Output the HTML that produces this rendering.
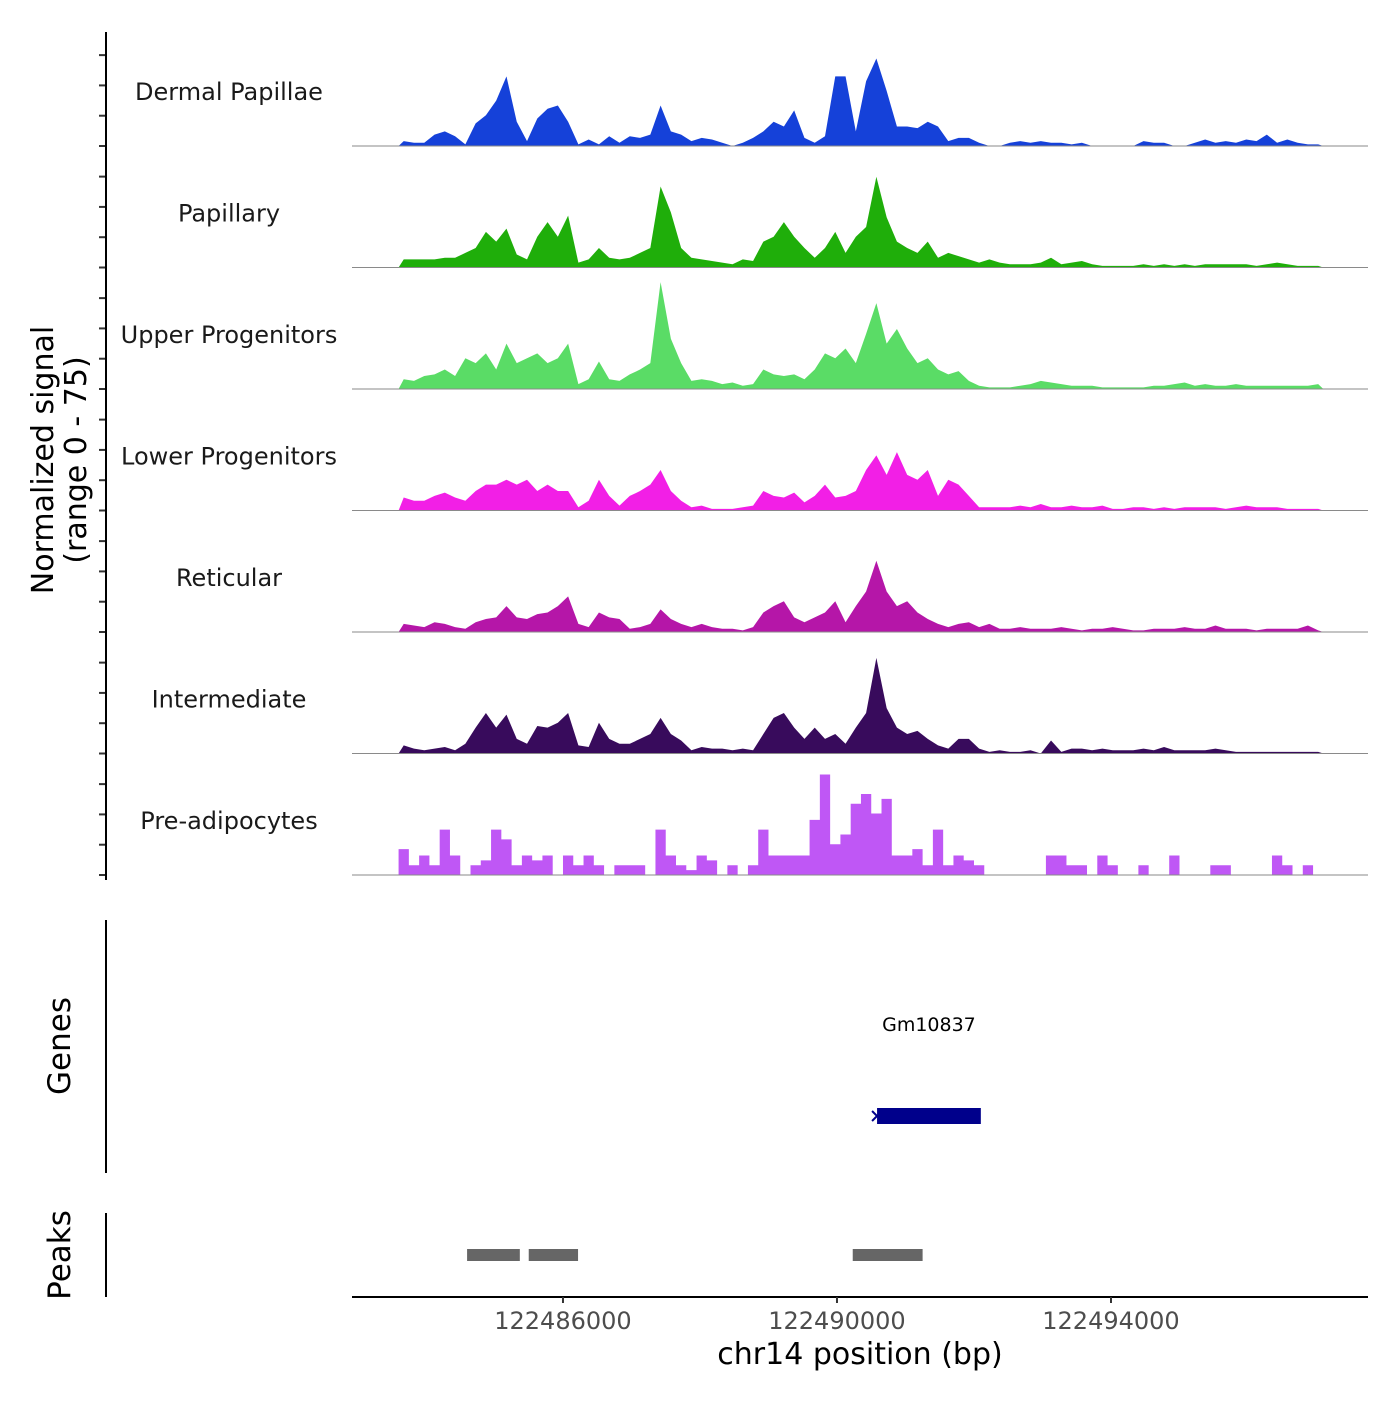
<!DOCTYPE html>
<html><head><meta charset="utf-8"><style>
html,body{margin:0;padding:0;background:#fff;}
svg text{font-family:"DejaVu Sans","Liberation Sans",sans-serif;}
</style></head><body>
<svg id="chart" width="1400" height="1400" viewBox="0 0 1400 1400" xmlns="http://www.w3.org/2000/svg">
<g id="tracks"></g>
<g id="axes"></g>
</svg>
<script>
const binStart = 122483600;
const binStep = 150;
const trackNames = ["Dermal Papillae","Papillary","Upper Progenitors","Lower Progenitors","Reticular","Intermediate","Pre-adipocytes"];
const trackColors = ["#1541d9","#1fae0a","#5adc66","#f21fe6","#b516a8","#380b5c","#bf57f5"];
const dermalPapillae = [3,2,2,7,9,6,1,14,19,28, 43,15,3,17,23,25,15,1,4,1, 6,2,6,5,7,25,9,7,3,5, 4,2,0,2,5,9,15,12,22,5, 2,6,43,43,9,40,54,34,12,12, 11,15,12,3,5,5,2,0,0,2, 3,2,3,2,2,1,2,0,0,0, 0,0,3,2,2,0,0,2,4,2, 3,2,4,3,7,2,4,2,1,1];
const papillary = [5,5,5,5,6,6,9,12,22,16, 24,8,5,19,28,19,32,3,5,12, 6,5,6,9,12,50,34,12,6,5, 4,3,2,5,4,16,19,28,19,12, 6,12,22,9,19,25,56,31,16,12, 9,16,6,9,7,5,3,5,3,2, 2,2,3,6,2,3,4,2,1,1, 1,1,2,1,2,1,2,1,2,2, 2,2,2,1,2,3,2,1,1,1];
const upperProgenitors = [6,5,8,9,12,8,19,16,22,12, 28,16,19,22,16,19,28,3,6,17, 6,5,9,12,16,66,31,16,5,6, 5,3,4,2,3,12,9,8,9,6, 12,22,19,25,16,34,53,28,37,25, 16,19,12,9,11,5,2,1,1,1, 2,3,5,4,3,2,2,2,1,1, 1,1,1,2,2,3,4,2,3,2, 2,3,2,2,2,2,2,2,2,3];
const lowerProgenitors = [8,6,6,9,11,8,6,12,16,16, 19,16,19,12,16,12,12,2,6,19, 9,3,9,12,16,25,12,6,2,3, 1,1,1,2,3,12,9,8,11,5, 9,16,8,9,12,25,34,22,36,22, 19,25,9,19,16,9,2,2,2,2, 3,2,4,2,2,3,2,2,3,1, 1,2,2,1,2,1,2,2,2,2, 1,2,3,2,2,2,1,1,1,1];
const reticular = [5,4,3,6,5,3,2,6,8,9, 16,9,8,11,12,16,22,5,3,12, 9,8,2,3,5,14,8,5,3,5, 3,2,2,1,3,12,16,19,9,6, 9,12,19,6,16,25,44,25,16,19, 12,8,5,3,5,6,3,5,2,2, 3,2,2,2,3,2,1,2,2,3, 2,1,1,2,2,2,3,2,2,4, 2,2,2,1,2,2,2,2,4,1];
const intermediate = [5,3,2,3,4,2,6,16,25,16, 24,9,6,17,16,19,25,5,4,19, 9,6,6,9,12,22,12,8,2,4, 3,3,2,3,2,12,22,25,16,9, 16,9,12,6,16,25,59,28,16,12, 14,9,5,3,9,9,3,1,2,1, 1,2,0,8,1,3,3,2,3,2, 2,2,3,2,4,2,2,2,2,3, 2,1,1,1,1,1,1,1,1,1];
const preAdipocytes = [16,6,12,6,28,12,0,6,9,28, 22,6,12,9,12,0,12,6,12,6, 0,6,6,6,0,28,12,6,3,12, 9,0,6,0,6,28,12,12,12,12, 34,62,19,25,44,50,38,47,12,12, 16,6,28,6,12,9,6,0,0,0, 0,0,0,12,12,6,6,0,12,6, 0,0,6,0,0,12,0,0,0,6, 6,0,0,0,0,12,6,0,6,0];
const trackData = [dermalPapillae,papillary,upperProgenitors,lowerProgenitors,reticular,intermediate,preAdipocytes];
const yTickValues = [0,18.7,37.4,56.1];
const xTickValues = [122486000,122490000,122494000];
const xTickLabels = ["122486000","122490000","122494000"];
const peakStarts = [122484600,122485500,122490230];
const peakEnds = [122485370,122486220,122491250];
const geneName = "Gm10837";
const geneStart = 122490585;
const geneEnd = 122492100;
const yMax = 75;

const NS="http://www.w3.org/2000/svg";
const X0=352, X1=1368, D0=122482920, D1=122497752;
function xs(bp){return X0+(bp-D0)/(D1-D0)*(X1-X0);}
const trackH=121.5, firstBase=146;
function ys(v,t){return firstBase+t*trackH - v/yMax*trackH;}
function mk(tag,attrs,parent){const e=document.createElementNS(NS,tag);for(const k in attrs)e.setAttribute(k,attrs[k]);parent.appendChild(e);return e;}
const tracks=document.getElementById('tracks');
const axes=document.getElementById('axes');

trackData.forEach((vals,t)=>{
  const g=mk('g',{},tracks);
  
  
  const base=ys(0,t);
  let d='M'+xs(binStart)+','+base;
  vals.forEach((v,i)=>{
    if(t===6){
      d+=' L'+xs(binStart+i*binStep)+','+ys(v,t)+' L'+xs(binStart+(i+1)*binStep)+','+ys(v,t);
    } else {
      d+=' L'+xs(binStart+(i+0.5)*binStep)+','+ys(v,t);
    }
  });
  d+=' L'+xs(binStart+vals.length*binStep)+','+base+' Z';
  const p=mk('path',{d:d,fill:trackColors[t],stroke:'none'},g);
  
  
  const bl=mk('line',{x1:X0,x2:X1,y1:base,y2:base,stroke:'#8a8a8a','stroke-width':1},g);
  
  
  const lab=mk('text',{x:229,y:base-46,'text-anchor':'middle','font-size':24,fill:'#1a1a1a'},g);
  lab.textContent=trackNames[t];
  
  
  yTickValues.forEach(v=>{
    const ty=ys(v,t);
    const tk=mk('line',{x1:99,x2:106,y1:ty,y2:ty,stroke:'#333','stroke-width':2},axes);
    
    
  });
});
// y axis
let e=mk('line',{x1:106,x2:106,y1:32,y2:880,stroke:'#000','stroke-width':2},axes);

e=mk('text',{transform:'translate(53,460) rotate(-90)','text-anchor':'middle','font-size':30,fill:'#000'},axes);
e.textContent='Normalized signal';

e=mk('text',{transform:'translate(86,460) rotate(-90)','text-anchor':'middle','font-size':30,fill:'#000'},axes);
e.textContent='(range 0 - 75)';

// genes
e=mk('line',{x1:106,x2:106,y1:920,y2:1173,stroke:'#000','stroke-width':2},axes);

e=mk('text',{transform:'translate(70,1046) rotate(-90)','text-anchor':'middle','font-size':31,fill:'#000'},axes);
e.textContent='Genes';

e=mk('rect',{x:xs(geneStart),y:1108,width:xs(geneEnd)-xs(geneStart),height:16,fill:'#00008b'},axes);

e=mk('path',{d:'M'+(xs(geneStart)-5)+',1111 L'+xs(geneStart)+',1116 L'+(xs(geneStart)-5)+',1121',stroke:'#00008b','stroke-width':2,fill:'none'},axes);

e=mk('text',{x:(xs(geneStart)+xs(geneEnd))/2,y:1031,'text-anchor':'middle','font-size':19,fill:'#000'},axes);
e.textContent=geneName;

// peaks
e=mk('line',{x1:106,x2:106,y1:1213,y2:1297,stroke:'#000','stroke-width':2},axes);

e=mk('text',{transform:'translate(70,1255) rotate(-90)','text-anchor':'middle','font-size':31,fill:'#000'},axes);
e.textContent='Peaks';

peakStarts.forEach((s,i)=>{
  const r=mk('rect',{x:xs(s),y:1249,width:xs(peakEnds[i])-xs(s),height:12,fill:'#666'},axes);
  
  
});
// x axis
e=mk('line',{x1:X0,x2:X1,y1:1297,y2:1297,stroke:'#000','stroke-width':2},axes);

xTickValues.forEach((v,i)=>{
  const tk=mk('line',{x1:xs(v),x2:xs(v),y1:1297,y2:1303,stroke:'#333','stroke-width':2},axes);
  
  
  const tl=mk('text',{x:xs(v),y:1329,'text-anchor':'middle','font-size':24,fill:'#4d4d4d'},axes);
  tl.textContent=xTickLabels[i];
  
  
});
e=mk('text',{x:860,y:1364,'text-anchor':'middle','font-size':30,fill:'#000'},axes);
e.textContent='chr14 position (bp)';

</script>
</body></html>
